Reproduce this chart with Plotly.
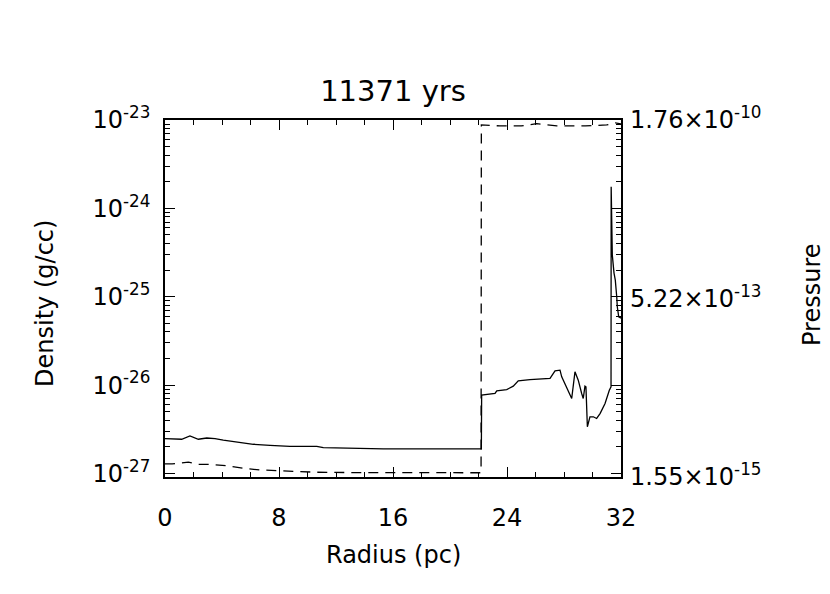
import plotly.graph_objects as go

# density profile (solid line), radius in pc
radius_rho = [0.0, 0.82, 1.17, 1.75, 2.34, 2.93, 3.51, 4.09, 5.26, 6.2, 7.37, 8.77,
              10.65, 11.11, 15.32, 21.96, 22.2,
              22.22, 23.16, 23.28, 23.98, 24.44, 24.79, 25.61, 27.02, 27.37, 27.72,
              27.84, 28.19, 28.54, 28.77, 29.0, 29.24, 29.35, 29.47, 29.54, 29.64,
              29.82, 30.06, 30.29, 30.53, 30.88, 31.18, 31.3, 31.31, 31.39, 31.51,
              31.6, 31.7, 31.74, 31.84, 31.93, 32.0]
density = [2.48e-27, 2.48e-27, 2.44e-27, 2.66e-27, 2.44e-27, 2.52e-27, 2.48e-27,
           2.38e-27, 2.24e-27, 2.14e-27, 2.08e-27, 2.03e-27, 2.03e-27, 1.96e-27,
           1.90e-27, 1.90e-27, 1.90e-27,
           7.69e-27, 8.04e-27, 8.59e-27, 8.91e-27, 9.72e-27, 1.117e-26, 1.156e-26,
           1.189e-26, 1.449e-26, 1.476e-26, 1.239e-26, 9.55e-27, 7.05e-27, 1.413e-26,
           1.138e-26, 8.04e-27, 7.05e-27, 9.72e-27, 9.55e-27, 3.37e-27, 4.38e-27,
           4.38e-27, 4.19e-27, 4.76e-27, 6.19e-27, 8.75e-27, 9.55e-27, 1.758e-24,
           2.96e-25, 1.85e-25, 1.54e-25, 9.98e-26, 7.69e-26, 5.92e-26, 5.73e-26,
           5.73e-26]

# pressure profile (dashed line)
radius_p = [0.0, 0.5, 1.64, 2.34, 3.16, 4.33, 5.5, 6.67, 8.07, 9.47, 10.65, 13.0,
            16.0, 21.96, 22.18, 22.2, 23.5, 25.0, 26.08, 27.5, 29.5, 31.0, 31.6, 32.0]
pressure = [2.37e-15, 2.37e-15, 2.51e-15, 2.34e-15, 2.34e-15, 2.24e-15, 2.06e-15,
            1.95e-15, 1.90e-15, 1.84e-15, 1.81e-15, 1.79e-15, 1.78e-15, 1.78e-15,
            1.78e-15, 1.50e-10, 1.45e-10, 1.45e-10, 1.56e-10, 1.45e-10, 1.45e-10,
            1.50e-10, 1.60e-10, 1.55e-10]

x_ticks = [0, 8, 16, 24, 32]
rho_ticks = [1e-27, 1e-26, 1e-25, 1e-24, 1e-23]
rho_labels = ["10<sup>-27</sup>", "10<sup>-26</sup>", "10<sup>-25</sup>",
              "10<sup>-24</sup>", "10<sup>-23</sup>"]
p_ticks = [1.55e-15, 5.22e-13, 1.76e-10]
p_labels = ["1.55×10<sup>-15</sup>", "5.22×10<sup>-13</sup>", "1.76×10<sup>-10</sup>"]

FONT = "DejaVu Sans"

fig = go.Figure()
fig.add_trace(go.Scatter(x=radius_rho, y=density, mode="lines",
                         line=dict(color="black", width=1.3), yaxis="y"))
fig.add_trace(go.Scatter(x=radius_p, y=pressure, mode="lines",
                         line=dict(color="black", width=1.3, dash="10px,7px"), yaxis="y2"))

# log minor ticks for the density axis
minor_rho = [m * 10.0 ** e for e in range(-28, -23) for m in range(2, 10)]

# page body has an 8px margin, so the figure is a bit smaller than the window
fig.update_layout(
    width=822, height=586, autosize=False,
    margin=dict(l=157, r=209, t=112, b=117),
    paper_bgcolor="white", plot_bgcolor="white",
    showlegend=False,
    font=dict(family=FONT, color="black", size=24),
    xaxis=dict(range=[0, 32], tickmode="array", tickvals=x_ticks,
               ticks="inside", ticklen=10, tickwidth=1.3, tickcolor="black",
               showline=True, linecolor="black", linewidth=1.5, mirror="ticks",
               showgrid=False, zeroline=False, ticklabelstandoff=18,
               minor=dict(tickmode="linear", tick0=0, dtick=2, ticks="inside",
                          ticklen=5, tickcolor="black", showgrid=False)),
    yaxis=dict(type="log", range=[-27.04, -23], tickmode="array",
               tickvals=rho_ticks, ticktext=rho_labels,
               ticks="inside", ticklen=10, tickwidth=1.3, tickcolor="black",
               showline=True, linecolor="black", linewidth=1.5, mirror="ticks",
               showgrid=False, zeroline=False, ticklabelstandoff=8,
               minor=dict(tickmode="array", tickvals=minor_rho, ticks="inside",
                          ticklen=5, tickcolor="black", showgrid=False)),
    yaxis2=dict(type="log", range=[-14.8097, -9.7545], overlaying="y", side="right",
                tickmode="array", tickvals=p_ticks, ticktext=p_labels,
                ticks="", showline=False, showgrid=False, zeroline=False,
                ticklabelstandoff=8),
    title=dict(text="11371 yrs", x=0.5, xref="paper", xanchor="center",
               y=0.858, yanchor="middle", font=dict(family=FONT, size=29)),
)

fig.add_annotation(text="Radius (pc)", xref="paper", yref="paper", x=0.5, y=-0.218,
                   showarrow=False, xanchor="center", yanchor="middle",
                   font=dict(family=FONT, size=24))
fig.add_annotation(text="Density (g/cc)", xref="paper", yref="paper", x=-0.263, y=0.485,
                   showarrow=False, textangle=-90, xanchor="center", yanchor="middle",
                   font=dict(family=FONT, size=24))
fig.add_annotation(text="Pressure", xref="paper", yref="paper", x=1.419, y=0.51,
                   showarrow=False, textangle=-90, xanchor="center", yanchor="middle",
                   font=dict(family=FONT, size=24))

fig.write_html("out.html")
